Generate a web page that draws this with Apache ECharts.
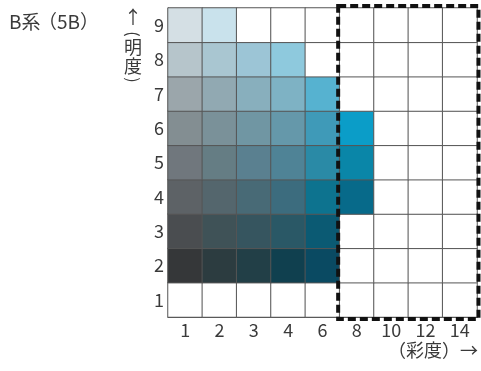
<!DOCTYPE html>
<html><head><meta charset="utf-8">
<script src="https://cdn.jsdelivr.net/npm/echarts@6/dist/echarts.min.js"></script>
<style>html,body{margin:0;padding:0;background:#fff}#c{width:481px;height:371px}</style>
</head><body><div id="c"></div>
<script>
// chroma categories (x) and value levels (y)
const chroma = ['1','2','3','4','6','8','10','12','14'];
const valueLevels = ['1','2','3','4','5','6','7','8','9'];
// cell colours per value level, one entry per chroma column (null = empty/white)
const value9 = ['#d4dfe4','#c9e2ec',null,null,null,null,null,null,null];
const value8 = ['#b6c5cb','#a9c6d1','#9cc5d6','#8ec9dd',null,null,null,null,null];
const value7 = ['#9ba6ab','#91a9b2','#88afbd','#7eb2c4','#56b2d0',null,null,null,null];
const value6 = ['#838e92','#7a9199','#7096a3','#6598aa','#3f9ab8','#0b9dc8',null,null,null];
const value5 = ['#70777d','#657d84','#5a8090','#4f8396','#2a8aa6','#0a86a8',null,null,null];
const value4 = ['#5d6266','#54666d','#486a76','#3c6c7e','#0d738f','#076a8a',null,null,null];
const value3 = ['#4a4d50','#3f5257','#36555f','#2a5866','#0b5a73',null,null,null,null];
const value2 = ['#353739','#2c3c40','#223f47','#10404f','#0a4a62',null,null,null,null];
const value1 = [null,null,null,null,null,null,null,null,null];
const rows = [value1,value2,value3,value4,value5,value6,value7,value8,value9];
// dashed frame covers these chroma columns
const frameFrom = '8', frameTo = '14';

const FONT = '"Noto Sans CJK JP","Noto Sans",sans-serif';
const TXT = '#3a3a3a';
const data = [];
rows.forEach((r, yi) => r.forEach((col, xi) => {
  data.push({value:[xi, yi, 1], itemStyle:{color: col || '#ffffff'}});
}));

const chart = echarts.init(document.getElementById('c'));
chart.setOption({
  animation:false,
  grid:{left:168, top:8, width:309, height:309, containLabel:false},
  xAxis:{type:'category', data:chroma,
    axisLine:{show:true, lineStyle:{color:'#333', width:1}},
    axisTick:{show:false},
    axisLabel:{color:TXT, fontSize:18, fontFamily:FONT, margin:4},
    splitLine:{show:false}},
  yAxis:{type:'category', data:valueLevels,
    axisLine:{show:true, lineStyle:{color:'#333', width:1}},
    axisTick:{show:false},
    axisLabel:{color:TXT, fontSize:18, fontFamily:FONT, margin:4},
    splitLine:{show:false}},
  series:[{type:'heatmap', data:data,
    itemStyle:{borderColor:'#555', borderWidth:1},
    emphasis:{disabled:true}}]
});

function vt(ch, x, y, rot, size){
  return {type:'text', x:x, y:y, rotation:rot||0,
    style:{text:ch, x:0, y:0, align:'center', verticalAlign:'middle', fill:TXT, font:(size||18)+'px '+FONT}};
}
function drawOverlay(){
  const band = 309/chroma.length;
  const p1 = chart.convertToPixel({gridIndex:0}, [frameFrom, valueLevels[valueLevels.length-1]]);
  const p2 = chart.convertToPixel({gridIndex:0}, [frameTo, valueLevels[0]]);
  const x0 = p1[0]-band/2 - 1.5, y0 = p1[1]-band/2 - 2;
  const x1 = p2[0]+band/2 + 1.5, y1 = p2[1]+band/2 + 2;
  chart.setOption({graphic:[
    {type:'rect', z:100, shape:{x:x0, y:y0, width:x1-x0, height:y1-y0},
     style:{fill:null, stroke:'#111', lineWidth:4, lineDash:[8,4]}},
    {type:'text', left:9, top:12, style:{text:'B系', fill:TXT, font:'19px '+FONT}},
    {type:'text', left:38, top:12, style:{text:'（5B）', fill:TXT, font:'19px '+FONT}},
    vt('↑', 133, 17, 0, 18),
    vt('(', 133, 34, -Math.PI/2, 16),
    vt('明', 133, 47, 0, 18),
    vt('度', 133, 66, 0, 18),
    vt(')', 133, 80, -Math.PI/2, 16),
    {type:'text', right:3, top:341, style:{text:'（彩度）→', fill:TXT, font:'18px '+FONT}}
  ]});
}
drawOverlay();
</script></body></html>
